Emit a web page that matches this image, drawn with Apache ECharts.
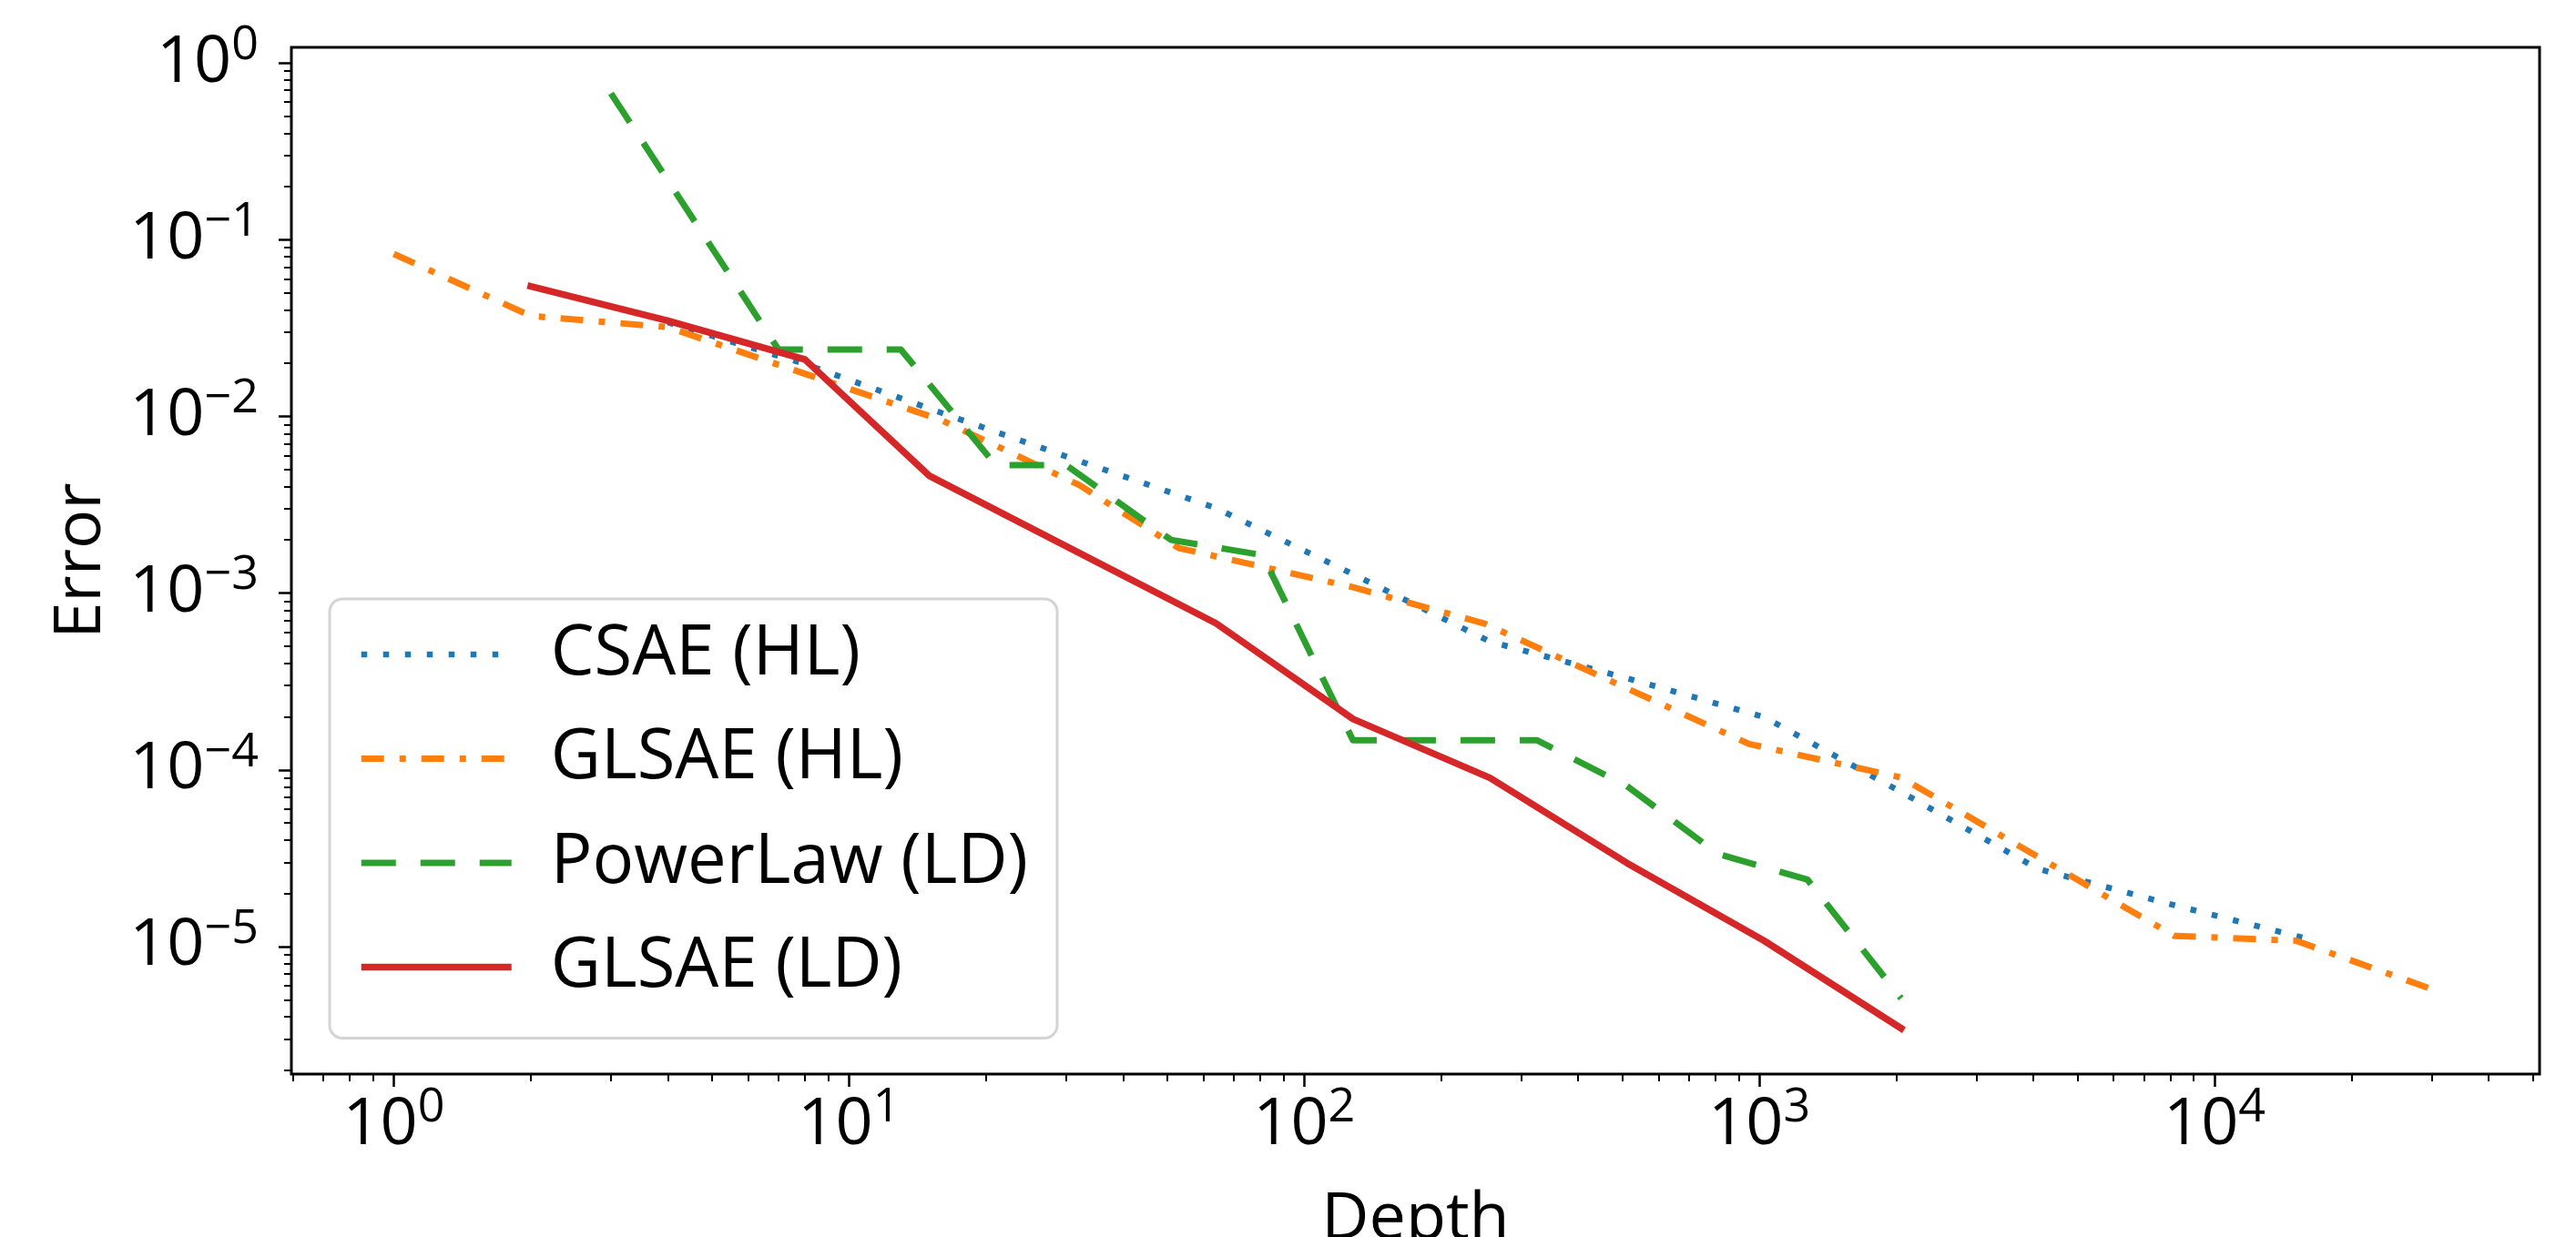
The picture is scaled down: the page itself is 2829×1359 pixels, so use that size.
<!DOCTYPE html>
<html>
<head>
<meta charset="utf-8">
<script src="https://cdn.jsdelivr.net/npm/echarts@6/dist/echarts.min.js"></script>
<style>
html,body{margin:0;padding:0;background:#fff;}
#chart{width:2829px;height:1359px;}
</style>
</head>
<body>
<div id="chart"></div>
<script>
// ---------------- data ----------------
const seriesNames = ['CSAE (HL)', 'GLSAE (HL)', 'PowerLaw (LD)', 'GLSAE (LD)'];

const csaeHL_x = [4, 8, 16, 32, 64, 128, 256, 512, 1024, 2048, 4096, 8192, 16384];
const csaeHL_y = [0.034, 0.0198, 0.01045, 0.0056, 0.00303, 0.00128, 5.32e-4, 3.3e-4, 1.99e-4, 7.5e-5, 2.75e-5, 1.71e-5, 1.09e-5];

const glsaeHL_x = [1, 2, 4, 16, 32, 53, 128, 250, 950, 2048, 8150, 15100, 30800];
const glsaeHL_y = [0.083, 0.037, 0.032, 0.0095, 0.0041, 0.0018, 0.00108, 6.7e-4, 1.4e-4, 9.06e-5, 1.15e-5, 1.08e-5, 5.6e-6];

const powerLD_x = [3, 7, 13, 21, 30, 51, 81, 128, 325, 512, 810, 1276, 2048];
const powerLD_y = [0.672, 0.0239, 0.0239, 0.0053, 0.0053, 0.0020, 0.00164, 1.47e-4, 1.47e-4, 8.1e-5, 3.35e-5, 2.39e-5, 5.1e-6];

const glsaeLD_x = [2, 4, 8, 15, 64, 128, 256, 512, 1024, 2048];
const glsaeLD_y = [0.0544, 0.0348, 0.021, 0.00462, 6.75e-4, 1.94e-4, 9.0e-5, 2.97e-5, 1.08e-5, 3.45e-6];

// axis ticks
const xMajorTicks = [1, 10, 100, 1000, 10000];
const yMajorTicks = [1, 0.1, 0.01, 0.001, 0.0001, 0.00001];
const X_MIN = 0.5958, X_MAX = 51760;
const Y_MIN = 1.9e-6, Y_MAX = 1.225;
const xAxisTitle = 'Depth';
const yAxisTitle = 'Error';

// ---------------- styling ----------------
const FONT = 'Open Sans';
const colors = ['#1f77b4', '#ff7f0e', '#2ca02c', '#d62728'];
const dashes = [[6.5, 17.5], [25, 17, 7, 17], [38, 27], 'solid'];
const widths = [6.5, 7, 7, 7.5];

function minorTicks(lo, hi) {
  const out = [];
  for (let e = -7; e <= 5; e++) {
    for (let m = 2; m <= 9; m++) {
      const v = m * Math.pow(10, e);
      if (v > lo && v < hi) out.push(v);
    }
  }
  return out;
}
function supLabel(v) {
  const e = Math.round(Math.log10(v));
  const s = e < 0 ? '\u2212' + (-e) : String(e);
  return '{b|10}{s|' + s + '}';
}
const rich = {
  b: { fontSize: 72, fontFamily: FONT, color: '#000', lineHeight: 90 },
  s: { fontSize: 52, fontFamily: FONT, color: '#000', verticalAlign: 'top' }
};
function zip(xs, ys) { return xs.map((x, i) => [x, ys[i]]); }

const seriesData = [zip(csaeHL_x, csaeHL_y), zip(glsaeHL_x, glsaeHL_y), zip(powerLD_x, powerLD_y), zip(glsaeLD_x, glsaeLD_y)];

const gridPos = { left: 320, top: 52, right: 40, bottom: 179 };

const option = {
  animation: false,
  backgroundColor: '#fff',
  grid: [
    Object.assign({ show: true, borderColor: '#000', borderWidth: 3, backgroundColor: 'transparent', containLabel: false, outerBoundsMode: 'none' }, gridPos),
    Object.assign({ show: false, containLabel: false, outerBoundsMode: 'none' }, gridPos)
  ],
  xAxis: [
    {
      type: 'log', logBase: 10, gridIndex: 0, min: X_MIN, max: X_MAX,
      name: xAxisTitle, nameLocation: 'middle', nameGap: 124,
      nameTextStyle: { fontSize: 72, fontFamily: FONT, color: '#000' },
      axisLine: { show: false },
      axisTick: { show: true, customValues: xMajorTicks, length: 14, lineStyle: { color: '#000', width: 2.5 } },
      axisLabel: { show: true, customValues: xMajorTicks, formatter: supLabel, rich: rich, margin: 11 },
      splitLine: { show: false }
    },
    {
      type: 'log', logBase: 10, gridIndex: 1, min: X_MIN, max: X_MAX,
      axisLine: { show: false },
      axisTick: { show: true, customValues: minorTicks(X_MIN, X_MAX), length: 8, lineStyle: { color: '#000', width: 2 } },
      axisLabel: { show: false },
      splitLine: { show: false }
    }
  ],
  yAxis: [
    {
      type: 'log', logBase: 10, gridIndex: 0, min: Y_MIN, max: Y_MAX,
      name: yAxisTitle, nameLocation: 'middle', nameGap: 195,
      nameTextStyle: { fontSize: 72, fontFamily: FONT, color: '#000' },
      axisLine: { show: false },
      axisTick: { show: true, customValues: yMajorTicks, length: 14, lineStyle: { color: '#000', width: 2.5 } },
      axisLabel: { show: true, customValues: yMajorTicks, formatter: supLabel, rich: rich, margin: 36 },
      splitLine: { show: false }
    },
    {
      type: 'log', logBase: 10, gridIndex: 1, min: Y_MIN, max: Y_MAX,
      axisLine: { show: false },
      axisTick: { show: true, customValues: minorTicks(Y_MIN, Y_MAX), length: 8, lineStyle: { color: '#000', width: 2 } },
      axisLabel: { show: false },
      splitLine: { show: false }
    }
  ],
  legend: {
    orient: 'vertical', left: 362, top: 658,
    padding: [16, 32, 33, 31],
    itemWidth: 165, itemHeight: 90, itemGap: 24.5,
    backgroundColor: '#fff', borderColor: '#d4d4d4', borderWidth: 3, borderRadius: 14,
    selectedMode: false,
    textStyle: { fontSize: 76, fontFamily: FONT, color: '#000', lineHeight: 90, padding: [0, 0, 0, 38] },
    itemStyle: { opacity: 0 },
    data: seriesNames.map((n, i) => ({
      name: n,
      itemStyle: { opacity: 0 },
      lineStyle: { color: colors[i], width: widths[i], type: dashes[i], cap: 'butt' }
    }))
  },
  series: seriesNames.map((n, i) => ({
    name: n, type: 'line', xAxisIndex: 0, yAxisIndex: 0,
    data: seriesData[i], symbol: 'none', showSymbol: false, silent: true, clip: true,
    lineStyle: { color: colors[i], width: widths[i], type: dashes[i], cap: i === 3 ? 'square' : 'butt', join: 'round' },
    itemStyle: { color: colors[i] },
    z: 2 + i
  }))
};

const chart = echarts.init(document.getElementById('chart'), null, { renderer: 'canvas', width: 2829, height: 1359 });
chart.setOption(option);
</script>
</body>
</html>
